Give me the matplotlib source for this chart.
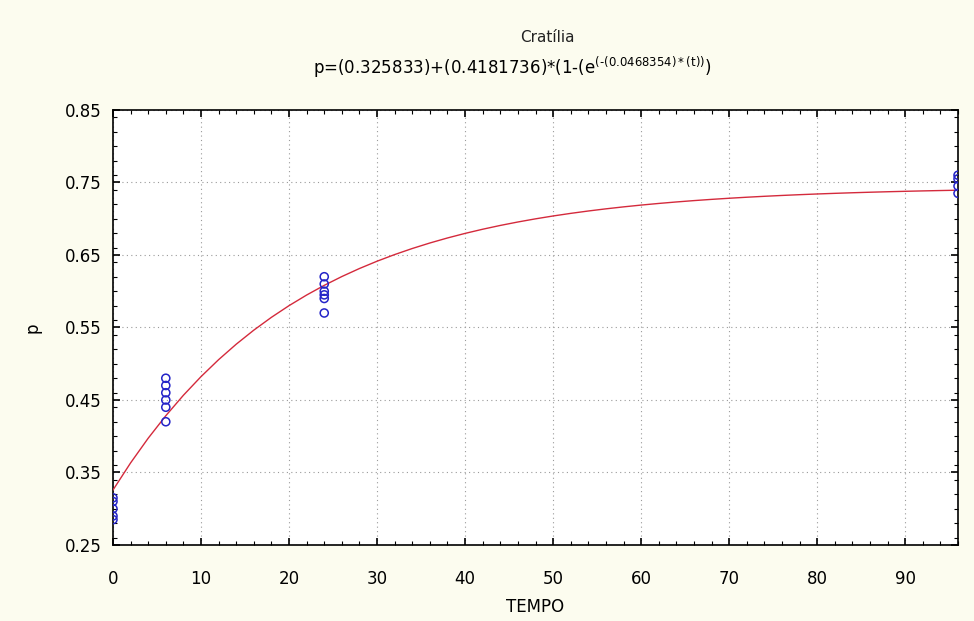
import matplotlib.pyplot as plt
import numpy as np
from matplotlib.ticker import MultipleLocator

plt.rcParams['font.family'] = 'DejaVu Sans'

# observed points (TEMPO, p)
tempo = [0, 0, 0, 0, 0,
         6, 6, 6, 6, 6, 6,
         24, 24, 24, 24, 24, 24,
         96, 96, 96, 96]
p_obs = [0.285, 0.29, 0.30, 0.31, 0.315,
         0.42, 0.44, 0.45, 0.46, 0.47, 0.48,
         0.57, 0.59, 0.595, 0.60, 0.61, 0.62,
         0.735, 0.745, 0.755, 0.76]

# fitted model parameters from the title
a0 = 0.325833
a1 = 0.4181736
k = 0.0468354

t_fit = np.linspace(0, 96, 49)
p_fit = a0 + a1 * (1 - np.exp(-k * t_fit))

bg = '#fcfcef'
fig = plt.figure(figsize=(9.74, 6.21), dpi=100, facecolor=bg)
ax = fig.add_axes([0.116, 0.1224, 0.8676, 0.7005])
ax.set_facecolor('white')

ax.plot(t_fit, p_fit, color='#d42a3c', linewidth=1.0, zorder=3)
ax.scatter(tempo, p_obs, s=34, facecolors='none', edgecolors='#2424c8',
           linewidths=1.1, zorder=4)

ax.set_xlim(0, 96)
ax.set_ylim(0.25, 0.85)
ax.xaxis.set_major_locator(MultipleLocator(10))
ax.xaxis.set_minor_locator(MultipleLocator(2))
ax.set_yticks(np.arange(0.25, 0.851, 0.1))
ax.yaxis.set_minor_locator(MultipleLocator(0.02))
ax.set_yticklabels(['0.25', '0.35', '0.45', '0.55', '0.65', '0.75', '0.85'])

ax.tick_params(which='both', direction='in', top=True, right=True,
               colors='black', labelsize=12)
ax.tick_params(which='major', length=5, width=1.2, pad=8)
ax.tick_params(axis='x', which='major', pad=18)
ax.tick_params(which='minor', length=3, width=0.8)
ax.grid(True, which='major', linestyle=(0, (1, 3)), color='#9a9a9a',
        linewidth=0.8)
for s in ax.spines.values():
    s.set_linewidth(1.2)

ax.set_xlabel('TEMPO', fontsize=12, labelpad=7)
ax.set_ylabel('p', fontsize=12, labelpad=17)

fig.text(0.5615, 0.940, 'Cratília', ha='center', va='center', fontsize=11,
         color='#222222')
fig.text(0.526, 0.892,
         'p=(0.325833)+(0.4181736)*(1-(e$^{\\mathregular{(\u2010(0.0468354)*(t))}}$)',
         ha='center', va='center', fontsize=12)

fig.savefig('out.png', dpi=100, facecolor=bg)
